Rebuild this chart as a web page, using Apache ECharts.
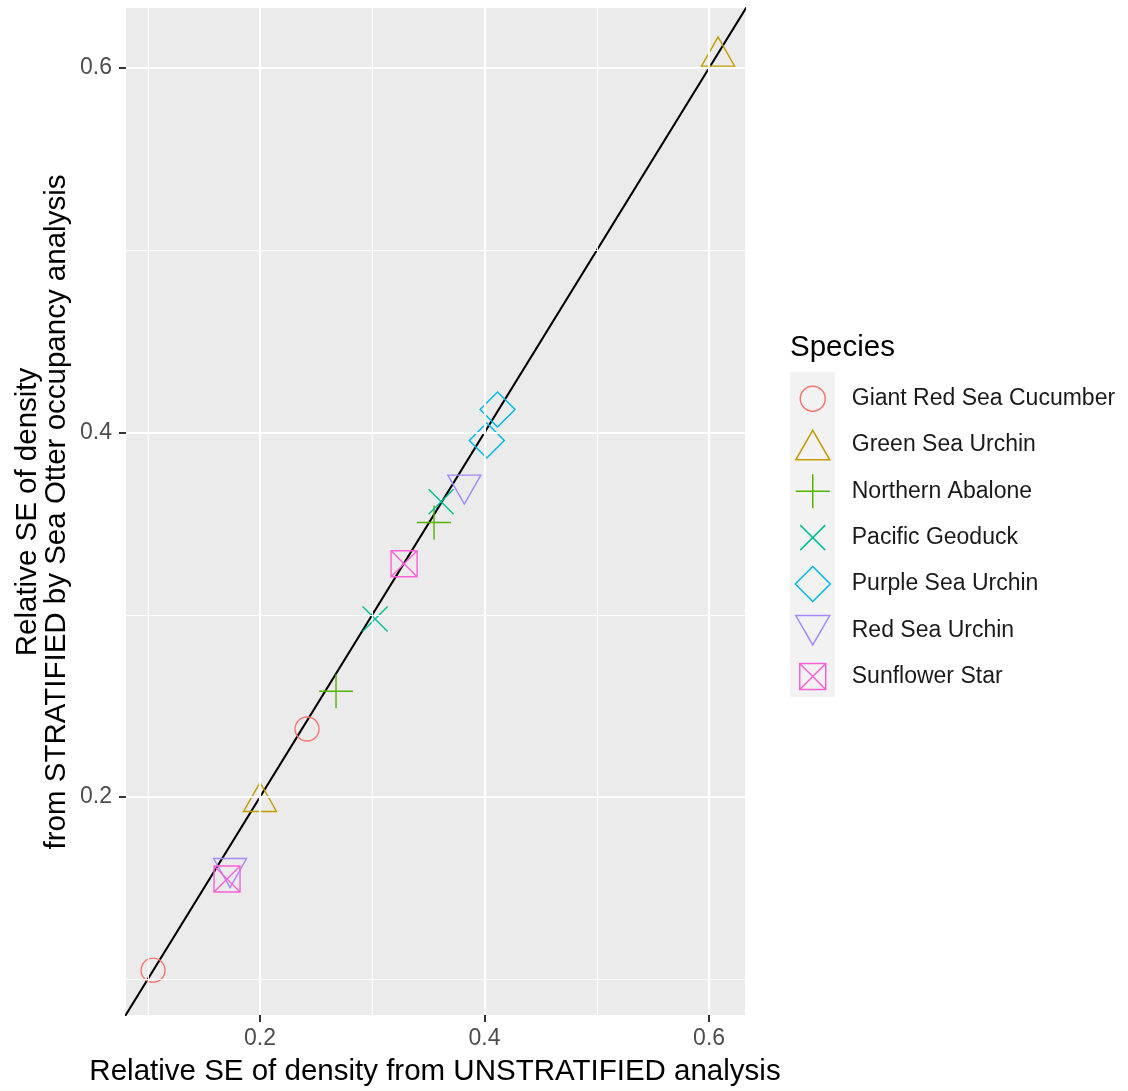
<!DOCTYPE html>
<html>
<head>
<meta charset="utf-8">
<script src="https://cdn.jsdelivr.net/npm/echarts@6/dist/echarts.min.js"></script>
<style>
  html, body { margin: 0; padding: 0; background: #fff; }
  #chart { width: 1128px; height: 1091px; }
</style>
</head>
<body>
<div id="chart"></div>
<script>
// species and their values: [unstratified, stratified]
const species = ['Giant Red Sea Cucumber', 'Green Sea Urchin', 'Northern Abalone',
  'Pacific Geoduck', 'Purple Sea Urchin', 'Red Sea Urchin', 'Sunflower Star']
const colors = ['#F8766D', '#C49A00', '#53B400', '#00C094', '#00B6EB', '#A58AFF', '#FB61D7']

const cucumber = [[0.1047, 0.105], [0.2419, 0.2373]]
const greenUrchin = [[0.200, 0.200], [0.608, 0.609]]
const abalone = [[0.2677, 0.258], [0.355, 0.3506]]
const geoduck = [[0.3025, 0.2977], [0.3613, 0.362]]
const purpleUrchin = [[0.4116, 0.4126], [0.402, 0.3956]]
const redUrchin = [[0.382, 0.3687], [0.1733, 0.1583]]
const sunflower = [[0.3283, 0.328], [0.1706, 0.155]]
const seriesData = [cucumber, greenUrchin, abalone, geoduck, purpleUrchin, redUrchin, sunflower]

const majorTicks = [0.2, 0.4, 0.6]
const minorTicks = [0.1, 0.3, 0.5]
const xRange = [0.0806, 0.632]
const yRange = [0.0804, 0.6329]

// plot symbols
const symbols = [
  { symbol: 'circle', size: 24 },
  { symbol: 'path://M17,0 L34,29.4 L0,29.4 Z', size: [33, 29] },
  { symbol: 'path://M0,17 L34,17 M17,0 L17,34', size: 34 },
  { symbol: 'path://M0,0 L25,25 M25,0 L0,25', size: 25 },
  { symbol: 'path://M17,0 L34,17 L17,34 L0,17 Z', size: 35 },
  { symbol: 'path://M0,0 L34,0 L17,29.4 Z', size: [33, 29] },
  { symbol: 'path://M0,0 L26,0 L26,26 L0,26 Z M0,0 L26,26 M26,0 L0,26', size: 26 }
]
// legend keys share a 36x36 box so shapes keep their own size
const keyBox = ' M0,0 M36,36'
const legendIcons = [
  'path://M5.5,18 A12.5,12.5 0 1,1 30.5,18 A12.5,12.5 0 1,1 5.5,18 Z',
  'path://M18,3.3 L35,32.7 L1,32.7 Z',
  'path://M1,18 L35,18 M18,1 L18,35',
  'path://M5.5,5.5 L30.5,30.5 M30.5,5.5 L5.5,30.5',
  'path://M18,0.5 L35.5,18 L18,35.5 L0.5,18 Z',
  'path://M1,3.3 L35,3.3 L18,32.7 Z',
  'path://M5,5 L31,5 L31,31 L5,31 Z M5,5 L31,31 M31,5 L5,31'
].map(p => p + keyBox)

const font = 'Liberation Sans, Arial, sans-serif'

const gridLines = []
majorTicks.forEach(v => {
  gridLines.push({ xAxis: v, lineStyle: { width: 2.2 } })
  gridLines.push({ yAxis: v, lineStyle: { width: 2.2 } })
})
minorTicks.forEach(v => {
  gridLines.push({ xAxis: v, lineStyle: { width: 1.1 } })
  gridLines.push({ yAxis: v, lineStyle: { width: 1.1 } })
})

const axisCommon = {
  type: 'value',
  axisLine: { show: false },
  splitLine: { show: false },
  axisTick: { show: true, length: 7, customValues: majorTicks, lineStyle: { color: '#333333', width: 2 } },
  axisLabel: {
    customValues: majorTicks, color: '#4D4D4D', fontSize: 23, fontFamily: font,
    formatter: v => v.toFixed(1)
  }
}

const series = [
  {
    type: 'scatter', data: [], z: 1, silent: true,
    markLine: {
      silent: true, symbol: 'none', label: { show: false },
      lineStyle: { color: '#FFFFFF', type: 'solid' },
      animation: false,
      data: gridLines
    }
  },
  {
    type: 'line', data: [[0.07, 0.07], [0.7, 0.7]], z: 2, silent: true,
    symbol: 'none', lineStyle: { color: '#000', width: 2 }, clip: true
  }
]
species.forEach((name, i) => {
  series.push({
    name: name, type: 'scatter', z: 3,
    data: seriesData[i],
    symbol: symbols[i].symbol, symbolSize: symbols[i].size,
    itemStyle: { color: 'rgba(0,0,0,0)', borderColor: colors[i], borderWidth: 1.4, opacity: 1 }
  })
})

const chart = echarts.init(document.getElementById('chart'))
chart.setOption({
  animation: false,
  backgroundColor: '#fff',
  grid: {
    left: 126, right: 383, top: 8, bottom: 76,
    show: true, backgroundColor: '#EBEBEB', borderWidth: 0
  },
  xAxis: Object.assign({}, axisCommon, { min: xRange[0], max: xRange[1],
    axisLabel: Object.assign({}, axisCommon.axisLabel, { margin: 12 }) }),
  yAxis: Object.assign({}, axisCommon, { min: yRange[0], max: yRange[1],
    axisLabel: Object.assign({}, axisCommon.axisLabel, { margin: 14 }) }),
  legend: {
    orient: 'vertical', left: 794, top: 380, padding: 0,
    itemWidth: 36, itemHeight: 36, itemGap: 8.8,
    data: species.map((name, i) => ({ name: name, icon: legendIcons[i] })),
    itemStyle: { borderWidth: 1.5 },
    textStyle: { fontSize: 23, fontFamily: font, color: '#1A1A1A', padding: [0, 0, 0, 16] }
  },
  graphic: [
    { type: 'rect', z: -1, shape: { x: 790, y: 372, width: 45, height: 325 }, style: { fill: '#F2F2F2' } },
    { type: 'text', x: 790, y: 348, style: { text: 'Species', fontSize: 29.5, fontFamily: font, fill: '#000', verticalAlign: 'middle' } },
    {
      type: 'text', x: 435, y: 1072,
      style: { text: 'Relative SE of density from UNSTRATIFIED analysis', fontSize: 29.5, fontFamily: font, fill: '#000', align: 'center', verticalAlign: 'middle' }
    },
    {
      type: 'text', x: 42, y: 512, rotation: Math.PI / 2,
      style: { text: 'Relative SE of density\nfrom STRATIFIED by Sea Otter occupancy analysis', fontSize: 29.5, lineHeight: 29, fontFamily: font, fill: '#000', align: 'center', verticalAlign: 'middle' }
    }
  ],
  series: series
})
</script>
</body>
</html>
